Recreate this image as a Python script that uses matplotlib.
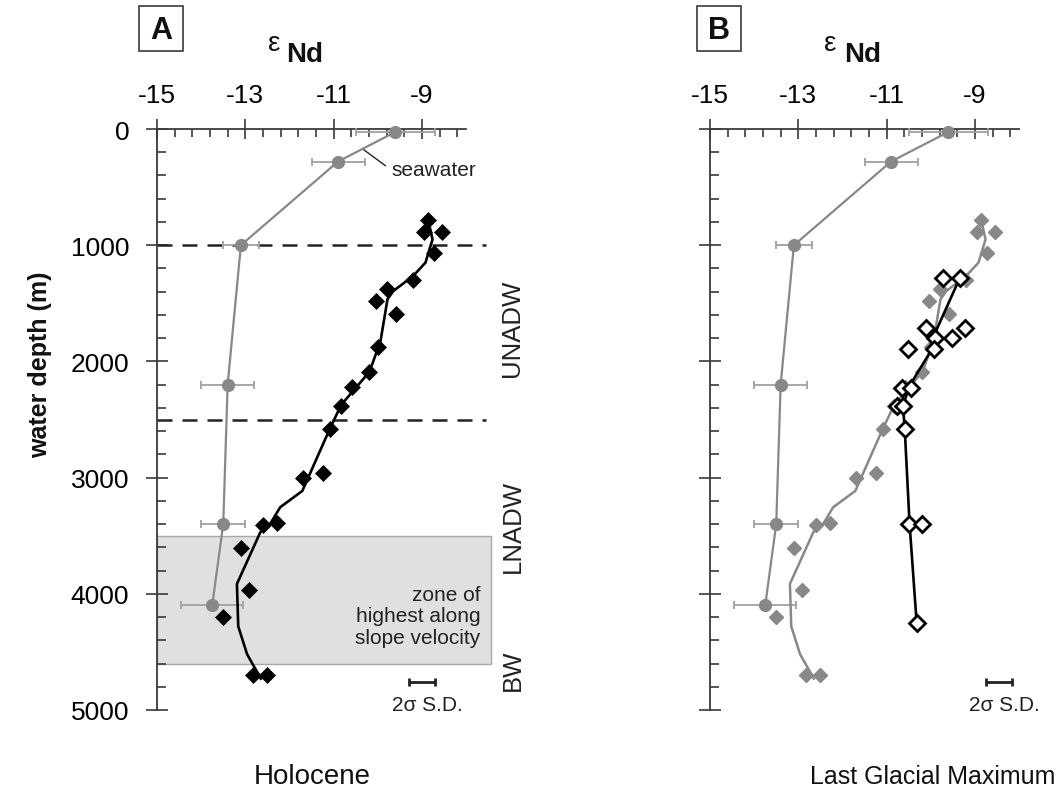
import numpy as np
import matplotlib.pyplot as plt
from matplotlib.ticker import FixedLocator, MultipleLocator
from matplotlib.patches import Rectangle

plt.rcParams.update({
    "font.family": ["Liberation Sans", "DejaVu Sans"],
    "font.size": 15,
})

# seawater profile (grey circles + 2 sigma bars)
sw_depth = [25, 280, 1000, 2200, 3400, 4100]
sw_eps = [-9.6, -10.9, -13.1, -13.4, -13.5, -13.75]
sw_err = [0.9, 0.6, 0.4, 0.6, 0.5, 0.7]

# Holocene core-top data
hol_depth = [780, 890, 890, 1070, 1300, 1380, 1480, 1590, 1880, 2090, 2220,
             2380, 2580, 2960, 3000, 3390, 3410, 3610, 3970, 4200, 4700, 4700]
hol_eps = [-8.86, -8.95, -8.54, -8.72, -9.20, -9.78, -10.03, -9.58, -9.99, -10.19, -10.58,
           -10.83, -11.08, -11.24, -11.69, -12.28, -12.59, -13.10, -12.91, -13.50, -12.82, -12.51]

# Holocene smoothed profile
hol_fit_depth = [780, 950, 1150, 1265, 1395, 1465, 1830, 2090, 2375, 2575,
                 3115, 3255, 3400, 3470, 3915, 4280, 4520, 4675, 4730]
hol_fit_eps = [-8.86, -8.76, -8.92, -9.20, -9.65, -9.78, -9.94, -10.19, -10.83, -11.08,
               -11.71, -12.21, -12.44, -12.66, -13.19, -13.16, -12.96, -12.73, -12.65]

# Last Glacial Maximum data
lgm_depth = [1280, 1280, 1710, 1710, 1800, 1800, 1890, 1890, 2230, 2230,
             2380, 2380, 2580, 3400, 3400, 4250]
lgm_eps = [-9.73, -9.34, -10.11, -9.23, -9.91, -9.53, -10.52, -9.93, -10.66, -10.45,
           -10.77, -10.63, -10.59, -10.50, -10.20, -10.32]

lgm_fit_depth = [1280, 1720, 1880, 2210, 2380, 2580, 3400, 4250]
lgm_fit_eps = [-9.34, -9.86, -9.95, -10.48, -10.63, -10.59, -10.48, -10.32]

major_x = [-15, -13, -11, -9]
minor_x = [-14.6, -14.2, -13.8, -13.4, -12.6, -12.2, -11.8, -11.4, -10.6, -10.2,
           -9.8, -9.4, -8.6, -8.2]
major_y = [0, 1000, 2000, 3000, 4000, 5000]

GREY = "#888888"
EBAR = "#a0a0a0"
AXC = "#3a3a3a"

W, H = 1060, 803
fig = plt.figure(figsize=(W / 100, H / 100), dpi=100)
axA = fig.add_axes([157 / W, 92 / H, 340 / W, 581 / H])
axB = fig.add_axes([710 / W, 92 / H, 340 / W, 581 / H])


def style_axis(ax, ylabels=True):
    ax.set_xlim(-15, -7.3)
    ax.set_ylim(5000, 0)
    ax.patch.set_visible(False)
    ax.xaxis.tick_top()
    ax.spines["right"].set_visible(False)
    ax.spines["bottom"].set_visible(False)
    ax.spines["top"].set_bounds(-15, -8.0)
    ax.spines["left"].set_bounds(0, 5000)
    for s in ["top", "left"]:
        ax.spines[s].set_color(AXC)
        ax.spines[s].set_linewidth(1.3)
    ax.set_xticks(major_x)
    ax.set_xticklabels([str(v) for v in major_x])
    ax.xaxis.set_minor_locator(FixedLocator(minor_x))
    ax.set_yticks(major_y)
    ax.yaxis.set_minor_locator(MultipleLocator(200))
    ax.tick_params(axis="x", which="major", direction="inout", length=14, width=1.2,
                   pad=9, labelsize=19, color=AXC)
    ax.tick_params(axis="x", which="minor", direction="in", length=6, width=1.2, color=AXC)
    ax.tick_params(axis="y", which="major", direction="inout", length=16, width=1.2,
                   pad=12, labelsize=19, color=AXC, labelleft=ylabels)
    ax.tick_params(axis="y", which="minor", direction="in", length=6.5, width=1.2, color=AXC)


def seawater(ax):
    ax.errorbar(sw_eps, sw_depth, xerr=sw_err, fmt="none", ecolor=EBAR, elinewidth=1.3,
                capsize=3, capthick=1.3, clip_on=False, zorder=3)
    ax.plot(sw_eps, sw_depth, "-o", color=GREY, lw=1.6, ms=8.5, mec=GREY,
            clip_on=False, zorder=4)


def sd_bar(ax, xc, xt):
    ax.errorbar([xc], [4760], xerr=[0.29], fmt="none", ecolor="#222222", elinewidth=2,
                capsize=3, capthick=2, clip_on=False)
    ax.text(xt, 4950, "2\u03c3 S.D.", ha="center", va="center", fontsize=15,
            color="#222222", clip_on=False)


# --- Panel A: Holocene ---
style_axis(axA, True)
axA.add_patch(Rectangle((-15, 3500), 7.57, 1100, facecolor="#e0e0e0",
                        edgecolor="#a8a8a8", lw=1, zorder=0))
for d in [1000, 2500]:
    axA.plot([-15, -7.55], [d, d], color="#222222", lw=1.8, ls=(0, (6, 4)),
             clip_on=False, zorder=2)
seawater(axA)
axA.plot(hol_fit_eps, hol_fit_depth, color="black", lw=1.9, zorder=5)
axA.plot(hol_eps, hol_depth, "D", color="black", ms=8.5, mec="black", mew=0.5, zorder=6)
axA.plot([-10.33, -9.83], [175, 315], color="#222222", lw=1)
axA.text(-9.7, 350, "seawater", ha="left", va="center", fontsize=15, color="#222222")
axA.text(-7.68, 4190, "zone of\nhighest along\nslope velocity", ha="right", va="center",
         multialignment="right", linespacing=1.15, fontsize=15, color="#222222")
sd_bar(axA, -9.0, -8.88)
for lab, d in [("UNADW", 1710), ("LNADW", 3415), ("BW", 4650)]:
    axA.text(-6.95, d, lab, rotation=90, ha="center", va="center", fontsize=18.5,
             color="#222222", clip_on=False)

# --- Panel B: Last Glacial Maximum ---
style_axis(axB, False)
seawater(axB)
axB.plot(hol_fit_eps, hol_fit_depth, color=GREY, lw=1.8, zorder=4)
axB.plot(hol_eps, hol_depth, "D", color=GREY, ms=7.5, mec=GREY, zorder=5)
axB.plot(lgm_fit_eps, lgm_fit_depth, color="black", lw=1.9, zorder=6)
axB.plot(lgm_eps, lgm_depth, "D", color="white", ms=8, mec="black", mew=2, zorder=7)
sd_bar(axB, -8.46, -8.33)

# --- figure texts ---
for x0, letter in [(139, "A"), (697, "B")]:
    fig.patches.append(Rectangle((x0 / W, 1 - 52 / H), 44 / W, 45 / H, transform=fig.transFigure,
                                 fill=False, ec=AXC, lw=1.2))
    fig.text((x0 + 22) / W, 1 - 31 / H, letter, ha="center", va="center",
             fontsize=22, fontweight="bold", color="#111111")

for xe, xn in [(274, 305), (830, 863)]:
    fig.text(xe / W, 1 - 44 / H, "\u03b5", ha="center", va="center", fontsize=20, color="#111111")
    fig.text(xn / W, 1 - 55 / H, "Nd", ha="center", va="center", fontsize=20,
             fontweight="bold", color="#111111")

fig.text(40 / W, 1 - 365 / H, "water depth (m)", rotation=90, ha="center", va="center",
         fontsize=18, fontweight="bold", color="#111111")
fig.text(312 / W, 1 - 777 / H, "Holocene", ha="center", va="center", fontsize=20, color="#111111")
fig.text(1055 / W, 1 - 777 / H, "Last Glacial Maximum", ha="right", va="center",
         fontsize=18, color="#111111")

fig.savefig("out.png", dpi=100)
